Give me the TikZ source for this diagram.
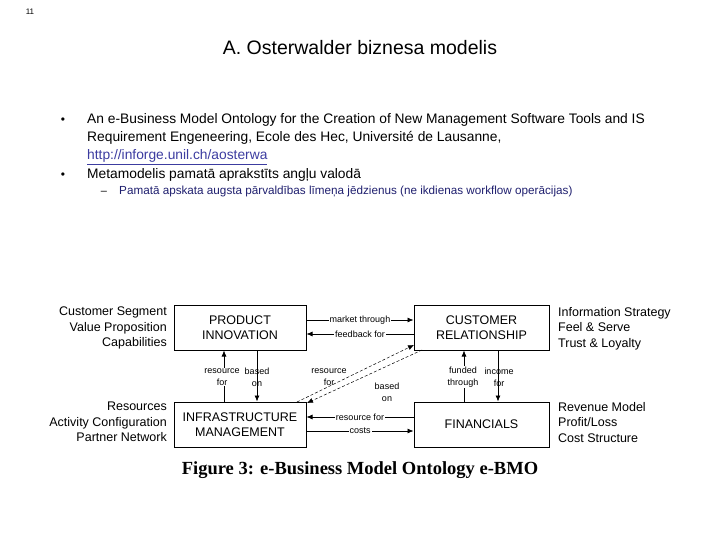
\documentclass[tikz,border=0pt]{standalone}
\usepackage{fontspec}
\setmainfont{Liberation Sans}
\newfontfamily\capfont{Liberation Serif}
\usetikzlibrary{arrows.meta}
\definecolor{linkc}{RGB}{60,60,160}
\definecolor{subc}{RGB}{30,30,110}
\begin{document}
\begin{tikzpicture}[x=1pt,y=-1pt,
 box/.style={draw,line width=1pt,minimum width=132pt,minimum height=45pt,align=center,font=\fontsize{12.5}{15}\selectfont,inner sep=0pt},
 lab/.style={font=\fontsize{9}{12}\selectfont,fill=white,inner sep=1pt,align=center},
 side/.style={font=\fontsize{12.5}{15.5}\selectfont,align=right,inner sep=0pt},
 sider/.style={font=\fontsize{12.5}{15.5}\selectfont,align=left,inner sep=0pt},
 arr/.style={-{Latex[length=6pt,width=5pt]},line width=0.7pt},
 bt/.style={font=\fontsize{13.8}{16}\selectfont,anchor=base west,inner sep=0pt}]
\useasboundingbox (0,0) rectangle (720,540);
\node[font=\fontsize{8}{9}\selectfont] (pg) at (30,12) {11};
\node[font=\fontsize{19.5}{22}\selectfont] (title) at (360,48) {A. Osterwalder biznesa modelis};
\node[font=\fontsize{12}{13}\selectfont,anchor=base] (b1) at (63,124) {•};
\node[bt] (t1a) at (87,124) {An e-Business Model Ontology for the Creation of New Management Software Tools and IS};
\node[bt] (t1b) at (87,142) {Requirement Engeneering, Ecole des Hec, Université de Lausanne,};
\node[bt,text=linkc] (t1c) at (87,160) {\underline{http://inforge.unil.ch/aosterwa}};
\node[font=\fontsize{12}{13}\selectfont,anchor=base] (b2) at (63,179) {•};
\node[bt] (t2) at (87,179) {Metamodelis pamatā aprakstīts angļu valodā};
\node[font=\fontsize{11}{12}\selectfont,anchor=base] (d1) at (104,195) {–};
\node[font=\fontsize{11.7}{13}\selectfont,anchor=base west,text=subc,inner sep=0pt] (t3) at (119,195) {Pamatā apskata augsta pārvaldības līmeņa jēdzienus (ne ikdienas workflow operācijas)};

\node[box] (pi) at (240,327.5) {PRODUCT\\INNOVATION};
\node[box,minimum width=135pt] (cr) at (481.5,327.5) {CUSTOMER\\RELATIONSHIP};
\node[box] (im) at (240,424.5) {INFRASTRUCTURE\\MANAGEMENT};
\node[box,minimum width=135pt] (fin) at (481.5,424.5) {FINANCIALS};

\draw[arr] (pi.east|-0,320) -- node[lab]{market through} (cr.west|-0,320);
\draw[arr] (cr.west|-0,334) -- node[lab]{feedback for} (pi.east|-0,334);
\draw[arr] (im.north-|224,0) -- (pi.south-|224,0);
\draw[arr] (pi.south-|257,0) -- (im.north-|257,0);
\draw[arr] (fin.north-|464,0) -- (cr.south-|464,0);
\draw[arr] (cr.south-|498,0) -- (fin.north-|498,0);
\draw[arr] (fin.west|-0,417) -- node[lab]{resource for} (im.east|-0,417);
\draw[arr] (im.east|-0,431) -- node[lab]{costs} (fin.west|-0,431);
\coordinate (d1s) at (297,402);
\coordinate (d1e) at (414,345);
\coordinate (d2s) at (422,350);
\coordinate (d2e) at (307,403);
\draw[arr,densely dashed,line width=0.5pt] (d1s) -- (d1e);
\draw[arr,densely dashed,line width=0.5pt] (d2s) -- (d2e);
\node[lab] (l1) at (222,377) {resource\\for};
\node[lab,fill=none] (l2) at (257,377) {based\\on};
\node[lab,fill=none] (l3) at (329,377) {resource\\for};
\node[lab,fill=none] (l4) at (387,392) {based\\on};
\node[lab] (l5) at (463,377) {funded\\through};
\node[lab,fill=none] (l6) at (499,377) {income\\for};

\node[side,anchor=north east] (ls1) at (167,307) {Customer Segment\\Value Proposition\\Capabilities};
\node[side,anchor=north east] (ls2) at (167,402) {Resources\\Activity Configuration\\Partner Network};
\node[sider,anchor=north west] (rs1) at (558,307) {Information Strategy\\Feel \& Serve\\Trust \& Loyalty};
\node[sider,anchor=north west] (rs2) at (558,402) {Revenue Model\\Profit/Loss\\Cost Structure};
\node[font=\capfont\bfseries\fontsize{18.5}{20}\selectfont] (cap) at (360,470) {Figure 3: e-Business Model Ontology e-BMO};
\end{tikzpicture}
\end{document}
